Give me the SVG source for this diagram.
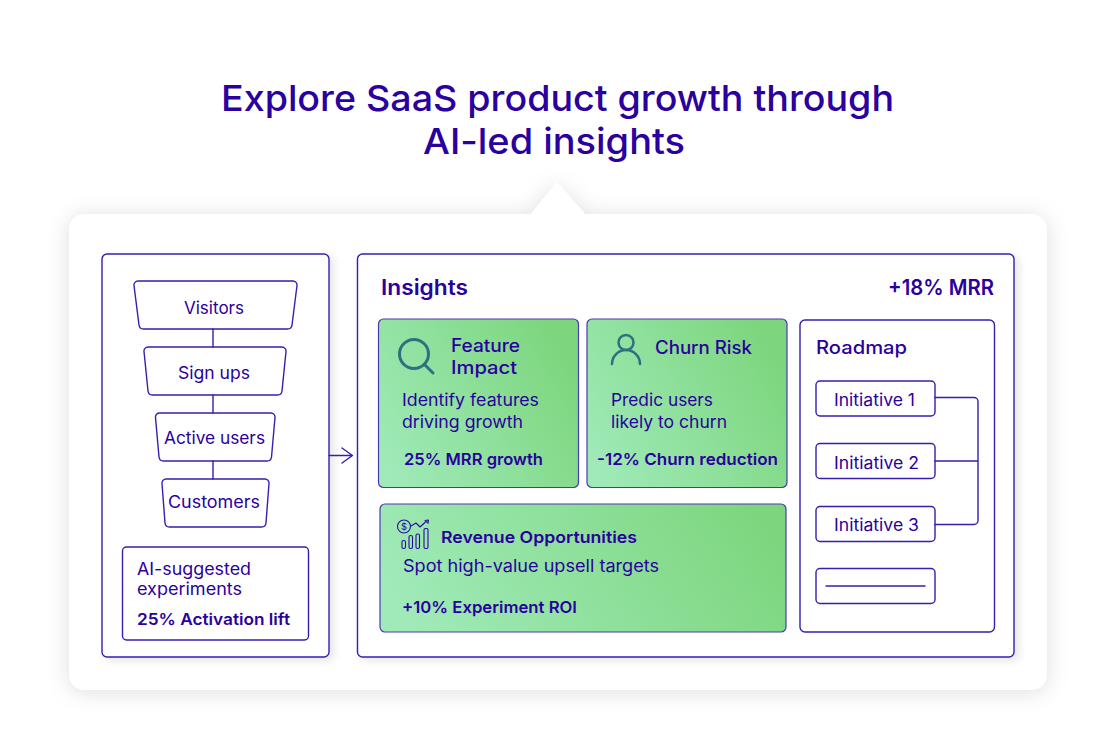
<svg xmlns="http://www.w3.org/2000/svg" width="1116" height="742" viewBox="0 0 1116 742">
<style>
text{font-family:Inter,"Open Sans","Noto Sans",sans-serif;fill:#2a009f;font-weight:400}
.t{font-size:36px;font-weight:500}
.h{font-size:21px;font-weight:600}
.s{font-size:18px;font-weight:500}
.b{font-size:17px}
.m{font-size:16.5px;font-weight:600}
.l{fill:none;stroke:#3a1cae;stroke-width:1.4;stroke-linecap:round;stroke-linejoin:round}
.p{fill:#fff;stroke:#3a1cae;stroke-width:1.4;stroke-linejoin:round}
.g{stroke:#4a3ab0;stroke-width:1.2}
.i{fill:none;stroke:#2f6f80;stroke-width:3;stroke-linecap:round}
.r{fill:none;stroke:#2a0aa5;stroke-width:1.1;stroke-linecap:round;stroke-linejoin:round}
</style>
<defs>
<filter id="sh" x="-10%" y="-15%" width="120%" height="130%"><feDropShadow dx="0" dy="2" stdDeviation="11" flood-color="#000" flood-opacity=".13"/></filter>
<filter id="sh2" x="-10%" y="-10%" width="120%" height="120%"><feDropShadow dx="4" dy="3" stdDeviation="4" flood-color="#000" flood-opacity=".10"/></filter>
<linearGradient id="gr" x1="0" y1="0.85" x2="1" y2="0.35"><stop offset="0" stop-color="#a0eab9"/><stop offset="1" stop-color="#7dd67e"/></linearGradient>
<linearGradient id="gr2" x1="0" y1="0.6" x2="1" y2="0.4"><stop offset="0" stop-color="#a0eab9"/><stop offset="1" stop-color="#7dd67e"/></linearGradient>
</defs>
<rect width="1116" height="742" fill="#fff"/>
<g id="title">
<text class="t" x="221" y="111" textLength="673" lengthAdjust="spacingAndGlyphs">Explore SaaS product growth through</text>
<text class="t" x="423" y="154" textLength="262" lengthAdjust="spacingAndGlyphs">AI-led insights</text>
</g>
<g id="card"><path filter="url(#sh)" fill="#fff" d="M85 214H531L557 182L585 214H1031a16 16 0 0 1 16 16V674a16 16 0 0 1-16 16H85a16 16 0 0 1-16-16V230a16 16 0 0 1 16-16Z"/></g>
<g id="funnel-panel"><rect class="p" filter="url(#sh2)" x="102" y="254" width="227" height="403" rx="5"/></g>
<g id="insights-panel"><rect class="p" filter="url(#sh2)" x="357.500" y="254" width="656.500" height="403" rx="5"/>
<text class="h" x="381" y="295" textLength="87" lengthAdjust="spacingAndGlyphs">Insights</text>
<text class="h" x="888" y="295" textLength="106" lengthAdjust="spacingAndGlyphs">+18% MRR</text></g>
<g id="visitors"><path class="p" d="M138 281H293a4 4 0 0 1 4 4.500L292 325a4.500 4.500 0 0 1-4.500 4H143.500a4.500 4.500 0 0 1-4.500-4L134 285.500a4 4 0 0 1 4-4.500Z"/>
<text class="b" x="184" y="314" textLength="60" lengthAdjust="spacingAndGlyphs">Visitors</text></g>
<g id="sign-ups"><path class="p" d="M148 347H282a4 4 0 0 1 4 4.500L282 391a4.500 4.500 0 0 1-4.500 4H152.500a4.500 4.500 0 0 1-4.500-4L144 351.500a4 4 0 0 1 4-4.500Z"/>
<text class="b" x="178" y="379" textLength="72" lengthAdjust="spacingAndGlyphs">Sign ups</text></g>
<g id="active-users"><path class="p" d="M160 413H271a4 4 0 0 1 4 4.500L271.500 457a4.500 4.500 0 0 1-4.500 4H163.500a4.500 4.500 0 0 1-4.500-4L155.500 417.500a4 4 0 0 1 4.500-4.500Z"/>
<text class="b" x="164" y="444" textLength="101" lengthAdjust="spacingAndGlyphs">Active users</text></g>
<g id="customers"><path class="p" d="M166 479H265a4 4 0 0 1 4 4.500L266 523a4.500 4.500 0 0 1-4.500 4H169.500a4.500 4.500 0 0 1-4.500-4L162 483.500a4 4 0 0 1 4-4.500Z"/>
<text class="b" x="168" y="508" textLength="92" lengthAdjust="spacingAndGlyphs">Customers</text></g>
<g id="experiments"><rect class="p" x="122.500" y="547" width="186" height="93" rx="4"/>
<text class="b" x="137" y="575" textLength="114" lengthAdjust="spacingAndGlyphs">AI-suggested</text>
<text class="b" x="137" y="595" textLength="105" lengthAdjust="spacingAndGlyphs">experiments</text>
<text class="m" x="137" y="625" textLength="153" lengthAdjust="spacingAndGlyphs">25% Activation lift</text></g>
<g id="feature-impact"><rect class="g" fill="url(#gr)" x="378.500" y="319" width="200" height="168.500" rx="5"/>
<circle class="i" cx="414" cy="354" r="14.500"/><path class="i" d="M424.500 364.500L433 373"/>
<text class="s" x="451" y="352" textLength="69" lengthAdjust="spacingAndGlyphs">Feature</text>
<text class="s" x="451" y="374" textLength="66" lengthAdjust="spacingAndGlyphs">Impact</text>
<text class="b" x="402" y="406" textLength="137" lengthAdjust="spacingAndGlyphs">Identify features</text>
<text class="b" x="402" y="428" textLength="121" lengthAdjust="spacingAndGlyphs">driving growth</text>
<text class="m" x="404" y="465" textLength="139" lengthAdjust="spacingAndGlyphs">25% MRR growth</text></g>
<g id="churn-risk"><rect class="g" fill="url(#gr)" x="587" y="319" width="200" height="168.500" rx="5"/>
<circle class="i" cx="626" cy="342.500" r="7.500" style="stroke-width:2.5"/><path class="i" style="stroke-width:2.5" d="M612 364a14 14 0 0 1 28 0"/>
<text class="s" x="655" y="354" textLength="97" lengthAdjust="spacingAndGlyphs">Churn Risk</text>
<text class="b" x="611" y="406" textLength="102" lengthAdjust="spacingAndGlyphs">Predic users</text>
<text class="b" x="611" y="428" textLength="116" lengthAdjust="spacingAndGlyphs">likely to churn</text>
<text class="m" x="597" y="465" textLength="181" lengthAdjust="spacingAndGlyphs">-12% Churn reduction</text></g>
<g id="revenue-opportunities"><rect class="g" fill="url(#gr2)" x="380" y="504" width="406" height="128" rx="5"/>
<circle class="r" cx="404" cy="526.500" r="6.500"/>
<text x="404" y="530" text-anchor="middle" style="font-size:9.500px">$</text>
<path class="r" d="M411 526L416 523L420 527L426 521.500L428 522.500M425 520.500L428.500 520L428 523.500"/>
<rect class="r" x="402" y="540.500" width="3.500" height="8" rx="1.500"/>
<rect class="r" x="409" y="535.500" width="3.500" height="13" rx="1.500"/>
<rect class="r" x="416" y="534" width="3.500" height="14.500" rx="1.500"/>
<rect class="r" x="424" y="528.500" width="4" height="20" rx="1.500"/>
<text class="m" x="441" y="543" textLength="196" lengthAdjust="spacingAndGlyphs">Revenue Opportunities</text>
<text class="b" x="403" y="572" textLength="256" lengthAdjust="spacingAndGlyphs">Spot high-value upsell targets</text>
<text class="m" x="402" y="613" textLength="175" lengthAdjust="spacingAndGlyphs">+10% Experiment ROI</text></g>
<g id="roadmap"><rect class="p" x="800" y="320" width="194.500" height="312" rx="5"/>
<text class="s" x="816" y="354" textLength="91" lengthAdjust="spacingAndGlyphs">Roadmap</text></g>
<g id="initiative-1"><rect class="p" x="816" y="381" width="119" height="35" rx="4"/><text class="b" x="834" y="406" textLength="81" lengthAdjust="spacingAndGlyphs">Initiative 1</text></g>
<g id="initiative-2"><rect class="p" x="816" y="443.500" width="119" height="35" rx="4"/><text class="b" x="834" y="469" textLength="85" lengthAdjust="spacingAndGlyphs">Initiative 2</text></g>
<g id="initiative-3"><rect class="p" x="816" y="506.500" width="119" height="35" rx="4"/><text class="b" x="834" y="531" textLength="85" lengthAdjust="spacingAndGlyphs">Initiative 3</text></g>
<g id="initiative-blank"><rect class="p" x="816" y="568.500" width="119" height="35" rx="4"/><path class="l" d="M826 586H925"/></g>
<g id="connectors">
<path class="l" d="M213 329V347M213 395V413M213 461V479"/>
<path class="l" d="M329 455.500H352M342 448L352.500 455.500L342 463"/>
<path class="l" d="M935 397.500H974a4 4 0 0 1 4 4V520.500a4 4 0 0 1-4 4H935M935 461H978"/>
</g>
</svg>
